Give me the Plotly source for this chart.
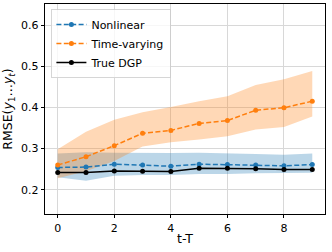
import plotly.graph_objects as go

steps = [0, 1, 2, 3, 4, 5, 6, 7, 8, 9]

nonlinear = [0.254, 0.255, 0.262, 0.260, 0.257, 0.262, 0.261, 0.260, 0.258, 0.261]
nonlinear_hi = [0.288, 0.291, 0.290, 0.289, 0.289, 0.290, 0.289, 0.287, 0.285, 0.288]
nonlinear_lo = [0.230, 0.222, 0.234, 0.236, 0.236, 0.238, 0.238, 0.240, 0.241, 0.241]

timevar = [0.260, 0.280, 0.307, 0.337, 0.344, 0.361, 0.368, 0.393, 0.399, 0.415]
timevar_hi = [0.298, 0.341, 0.370, 0.388, 0.401, 0.415, 0.427, 0.454, 0.468, 0.488]
timevar_lo = [0.228, 0.245, 0.270, 0.305, 0.315, 0.322, 0.330, 0.346, 0.352, 0.378]

true_dgp = [0.2415, 0.242, 0.2455, 0.245, 0.244, 0.252, 0.252, 0.251, 0.249, 0.249]

x_ticks = [0, 2, 4, 6, 8]
y_ticks = [0.2, 0.3, 0.4, 0.5, 0.6]

BLUE = "#1f77b4"
ORANGE = "#ff7f0e"
FONT = "DejaVu Sans"

fig = go.Figure()

def band(lo, hi, color):
    fig.add_trace(go.Scatter(
        x=steps + steps[::-1], y=hi + lo[::-1], fill="toself",
        fillcolor=color, line=dict(width=0), mode="lines",
        showlegend=False, hoverinfo="skip"))

band(nonlinear_lo, nonlinear_hi, "rgba(31,119,180,0.3)")
band(timevar_lo, timevar_hi, "rgba(255,127,14,0.3)")

fig.add_trace(go.Scatter(x=steps, y=nonlinear, name="Nonlinear", mode="lines+markers",
                         line=dict(color=BLUE, width=1.5, dash="5px,2.4px"),
                         marker=dict(size=5, color=BLUE)))
fig.add_trace(go.Scatter(x=steps, y=timevar, name="Time-varying", mode="lines+markers",
                         line=dict(color=ORANGE, width=1.5, dash="5px,2.4px"),
                         marker=dict(size=5, color=ORANGE)))
fig.add_trace(go.Scatter(x=steps, y=true_dgp, name="True DGP", mode="lines+markers",
                         line=dict(color="black", width=1.5),
                         marker=dict(size=5, color="black")))

axis_common = dict(showline=True, linecolor="black", linewidth=0.8, mirror=True,
                   ticks="outside", ticklen=3.5, tickwidth=0.8, tickcolor="black",
                   showgrid=True, gridcolor="#d8d8d8", gridwidth=0.8, zeroline=False,
                   automargin=False,
                   tickfont=dict(family=FONT, size=11, color="black"))

fig.update_xaxes(range=[-0.45, 9.45], tickvals=x_ticks,
                 title=dict(text="t-T", font=dict(family=FONT, size=12.5, color="black"), standoff=0),
                 **axis_common)
fig.update_yaxes(range=[0.141, 0.651], tickvals=y_ticks, tickformat=".1f",
                 title=dict(text="RMSE(<i>y</i><sub>1</sub>…<i>y</i><sub><i>t</i></sub>)",
                            font=dict(family=FONT, size=12.5, color="black"), standoff=6),
                 **axis_common)

fig.update_layout(
    width=332, height=252,
    margin=dict(l=45, r=7, t=4, b=38),
    plot_bgcolor="white", paper_bgcolor="white",
    font=dict(family=FONT, size=11, color="black"),
    legend=dict(x=0.02, y=0.975, xanchor="left", yanchor="top",
                bgcolor="rgba(255,255,255,0.8)", bordercolor="#cccccc", borderwidth=0.8,
                font=dict(family=FONT, size=11), itemwidth=30, tracegroupgap=0),
)

fig.write_html("out.html", config={"displayModeBar": False})

# remove the default page margin so the figure sits at the window's top-left corner
with open("out.html", "r", encoding="utf-8") as f:
    html = f.read()
html = html.replace("<head>", "<head><style>html,body{margin:0;padding:0;overflow:hidden;}</style>", 1)
with open("out.html", "w", encoding="utf-8") as f:
    f.write(html)
